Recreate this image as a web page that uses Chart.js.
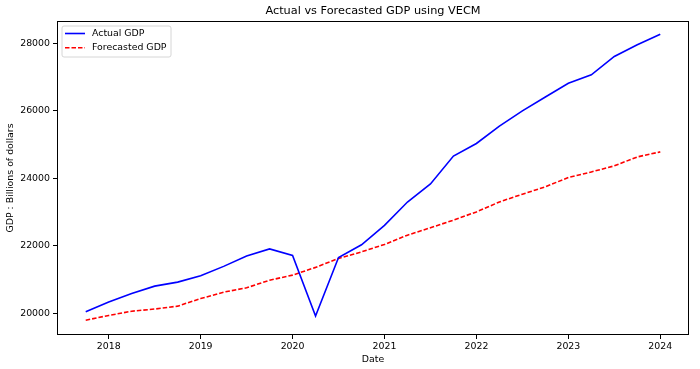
<!DOCTYPE html>
<html>
<head>
<meta charset="utf-8">
<script src="https://cdn.jsdelivr.net/npm/chart.js@4.4.1/dist/chart.umd.min.js"></script>
<style>
  html, body { margin: 0; padding: 0; background: #fff; }
  #wrap { width: 700px; height: 369px; position: relative; }
</style>
</head>
<body>
<div id="wrap"><canvas id="c" width="700" height="369"></canvas></div>
<script>
// ---- data ----
const chartTitle = 'Actual vs Forecasted GDP using VECM';
const xAxisTitle = 'Date';
const yAxisTitle = 'GDP : Billions of dollars';
const dates = ['2017-10','2018-01','2018-04','2018-07','2018-10','2019-01','2019-04','2019-07','2019-10',
  '2020-01','2020-04','2020-07','2020-10','2021-01','2021-04','2021-07','2021-10','2022-01','2022-04',
  '2022-07','2022-10','2023-01','2023-04','2023-07','2023-10','2024-01'];
const actualGDP = [20037, 20329, 20581, 20799, 20918, 21104, 21385, 21694, 21902,
  21707, 19913, 21648, 22025, 22600, 23292, 23829, 24655, 25029, 25544,
  25995, 26408, 26814, 27063, 27610, 27957, 28269];
const forecastGDP = [19790, 19930, 20055, 20120, 20205, 20430, 20620, 20750, 20975,
  21125, 21355, 21620, 21815, 22035, 22310, 22530, 22755, 23000, 23295,
  23525, 23745, 24020, 24185, 24365, 24630, 24780];
const xTickYears = [2018, 2019, 2020, 2021, 2022, 2023, 2024];
const yTickValues = [20000, 22000, 24000, 26000, 28000];

function toYear(s) { const [y, m] = s.split('-').map(Number); return y + (m - 1) / 12; }
const actualPts = dates.map((d, i) => ({ x: toYear(d), y: actualGDP[i] }));
const forecastPts = dates.map((d, i) => ({ x: toYear(d), y: forecastGDP[i] }));

const FONT = 'DejaVu Sans';
const TXT = '#000';

const framePlugin = {
  id: 'frame',
  afterDraw(chart) {
    const { ctx, chartArea: a } = chart;
    ctx.save();
    ctx.strokeStyle = '#000';
    ctx.lineWidth = 1;
    ctx.strokeRect(Math.round(a.left) + 0.5, Math.round(a.top) + 0.5,
      Math.round(a.right - a.left) - 1, Math.round(a.bottom - a.top) - 1);
    // title centered over plot area
    ctx.fillStyle = TXT;
    ctx.font = '11.3px "' + FONT + '"';
    ctx.textAlign = 'center';
    ctx.textBaseline = 'middle';
    ctx.fillText(chartTitle, (a.left + a.right) / 2, 11.5);
    // legend
    const lx = a.left + 5, ly = a.top + 5, lw = 109, lh = 31;
    ctx.beginPath();
    const r = 2;
    ctx.moveTo(lx + r, ly);
    ctx.arcTo(lx + lw, ly, lx + lw, ly + lh, r);
    ctx.arcTo(lx + lw, ly + lh, lx, ly + lh, r);
    ctx.arcTo(lx, ly + lh, lx, ly, r);
    ctx.arcTo(lx, ly, lx + lw, ly, r);
    ctx.closePath();
    ctx.fillStyle = 'rgba(255,255,255,0.85)';
    ctx.fill();
    ctx.strokeStyle = '#d6d6d6';
    ctx.lineWidth = 1;
    ctx.stroke();
    chart.data.datasets.forEach((ds, i) => {
      const cy = ly + 7.5 + i * 14.3;
      ctx.beginPath();
      ctx.strokeStyle = ds.borderColor;
      ctx.lineWidth = ds.borderWidth;
      ctx.setLineDash(ds.borderDash || []);
      ctx.moveTo(lx + 3, cy);
      ctx.lineTo(lx + 23, cy);
      ctx.stroke();
      ctx.setLineDash([]);
      ctx.fillStyle = TXT;
      ctx.font = '9.4px "' + FONT + '"';
      ctx.textAlign = 'left';
      ctx.textBaseline = 'middle';
      ctx.fillText(ds.label, lx + 30, cy);
    });
    ctx.restore();
  }
};

new Chart(document.getElementById('c'), {
  type: 'line',
  data: {
    datasets: [
      { label: 'Actual GDP', data: actualPts, borderColor: '#0000ff', borderWidth: 1.6,
        pointRadius: 0, fill: false, tension: 0 },
      { label: 'Forecasted GDP', data: forecastPts, borderColor: '#ff0000', borderWidth: 1.6,
        borderDash: [4.5, 2], pointRadius: 0, fill: false, tension: 0 }
    ]
  },
  options: {
    responsive: false,
    animation: false,
    devicePixelRatio: 1,
    layout: { padding: { top: 21, right: 11, left: 0, bottom: 0 } },
    plugins: { legend: { display: false }, title: { display: false }, tooltip: { enabled: false } },
    scales: {
      x: {
        type: 'linear',
        min: 2017.4375, max: 2024.3125,
        afterBuildTicks(axis) { axis.ticks = xTickYears.map(v => ({ value: v })); },
        afterFit(axis) { axis.height = 34; },
        grid: { display: true, drawOnChartArea: false, drawTicks: true, tickLength: 4, color: '#000' },
        border: { display: false },
        ticks: { color: TXT, font: { family: FONT, size: 9.4 }, padding: 2, maxRotation: 0,
          callback: v => String(v) },
        title: { display: true, text: xAxisTitle, color: TXT, font: { family: FONT, size: 9.4 },
          padding: { top: 0, bottom: 4 } }
      },
      y: {
        type: 'linear',
        min: 19350, max: 28660,
        afterBuildTicks(axis) { axis.ticks = yTickValues.map(v => ({ value: v })); },
        afterFit(axis) { axis.width = 57; },
        grid: { display: true, drawOnChartArea: false, drawTicks: true, tickLength: 4, color: '#000' },
        border: { display: false },
        ticks: { color: TXT, font: { family: FONT, size: 9.4 }, padding: 3,
          callback: v => String(v) },
        title: { display: true, text: yAxisTitle, color: TXT, font: { family: FONT, size: 9.4 },
          padding: { top: 5, bottom: 0 } }
      }
    }
  },
  plugins: [framePlugin]
});
</script>
</body>
</html>
